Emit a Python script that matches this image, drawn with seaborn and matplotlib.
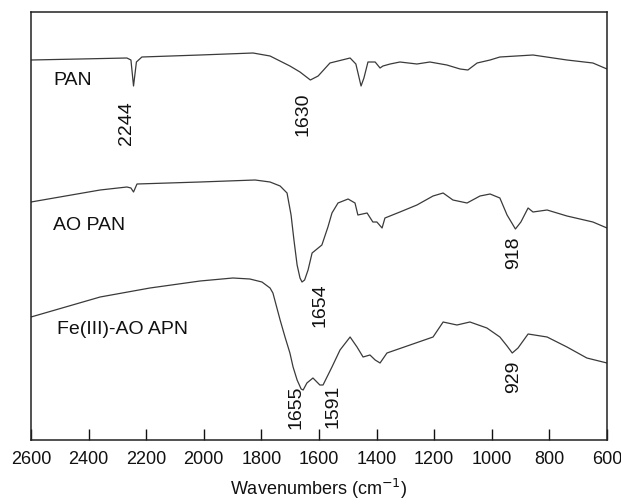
import pandas as pd
import seaborn as sns
import matplotlib.pyplot as plt

# wavenumbers (cm-1) and transmittance (a.u., offset)
pan_wn = [2600, 2430, 2267, 2253, 2244, 2234, 2215, 2013, 1829, 1770, 1701, 1666,
          1630, 1603, 1562, 1520, 1492, 1472, 1454, 1444, 1430, 1405, 1388, 1378,
          1353, 1319, 1260, 1215, 1156, 1110, 1083, 1051, 1006, 972, 857, 739, 649, 600]
pan_t = [380, 381, 382, 380, 354, 378, 383, 385, 387, 384, 374, 368,
         360, 364, 377, 380, 382, 376, 354, 362, 378, 378, 372, 374,
         376, 378, 376, 378, 375, 371, 370, 377, 380, 383, 385, 380, 377, 371]

aopan_wn = [2600, 2360, 2267, 2253, 2244, 2232, 2013, 1822, 1770, 1735, 1711, 1697,
            1687, 1676, 1666, 1659, 1650, 1638, 1624, 1590, 1569, 1555, 1534, 1499,
            1475, 1465, 1433, 1413, 1399, 1381, 1371, 1319, 1260, 1204, 1169, 1135,
            1086, 1041, 1006, 972, 947, 918, 899, 874, 857, 808, 739, 649, 600]
aopan_t = [238, 250, 253, 252, 248, 256, 258, 260, 258, 254, 247, 225,
           200, 175, 162, 158, 160, 170, 187, 195, 213, 227, 237, 241,
           237, 225, 227, 218, 218, 212, 222, 228, 235, 244, 247, 240,
           237, 244, 246, 242, 225, 211, 218, 232, 228, 230, 224, 218, 212]

fe_wn = [2600, 2360, 2187, 2013, 1899, 1840, 1798, 1770, 1760, 1735, 1718, 1701,
         1690, 1676, 1662, 1655, 1642, 1621, 1597, 1586, 1555, 1527, 1492, 1468,
         1447, 1423, 1405, 1388, 1364, 1284, 1204, 1169, 1121, 1076, 1017,
         972, 947, 929, 909, 874, 808, 739, 670, 600]
fe_t = [123, 143, 152, 159, 162, 161, 158, 152, 147, 120, 103, 87,
        73, 60, 51, 50, 57, 62, 55, 55, 73, 90, 103, 93,
        83, 85, 80, 77, 87, 95, 103, 118, 115, 118, 112,
        103, 94, 87, 92, 106, 103, 93, 82, 77]

names = ['PAN', 'AO PAN', 'Fe(III)-AO APN']
name_pos = [(2524, 360), (2524, 214), (2510, 110)]

peaks = ['2244', '1630', '1654', '918', '1655', '1591', '929']
peak_pos = [(2267, 317), (1656, 326), (1597, 135), (924, 187),
            (1680, 33), (1551, 34), (924, 63)]

sns.set_style('ticks')
plt.rcParams['font.family'] = ['Liberation Sans', 'DejaVu Sans']

fig = plt.figure(figsize=(6.21, 5.04), dpi=100)
ax = fig.add_axes([31 / 621, 1 - 440 / 504, 576 / 621, 428 / 504])

for wn, t in [(pan_wn, pan_t), (aopan_wn, aopan_t), (fe_wn, fe_t)]:
    df = pd.DataFrame({'wn': wn, 't': t})
    sns.lineplot(data=df, x='wn', y='t', ax=ax, color='#3a3a3a', linewidth=0.9,
                 sort=False, estimator=None)

for name, (x, y) in zip(names, name_pos):
    ax.text(x, y, name, fontsize=14, ha='left', va='center', color='#111111')

for p, (x, y) in zip(peaks, peak_pos):
    ax.text(x, y, p, fontsize=14, rotation=90, ha='center', va='center', color='#111111')

ax.set_xlim(2600, 600)
ax.set_ylim(0, 428)
ax.set_xticks(range(2600, 599, -200))
ax.set_yticks([])
ax.tick_params(axis='x', direction='in', length=8, width=1, pad=8, labelsize=13,
               colors='#111111')
for s in ax.spines.values():
    s.set_visible(True)
    s.set_linewidth(1.1)
    s.set_color('#222222')
ax.set_xlabel('Wavenumbers (cm$^{-1}$)', fontsize=13, labelpad=6, color='#111111')
ax.set_ylabel('')

fig.savefig('out.png', dpi=100)
